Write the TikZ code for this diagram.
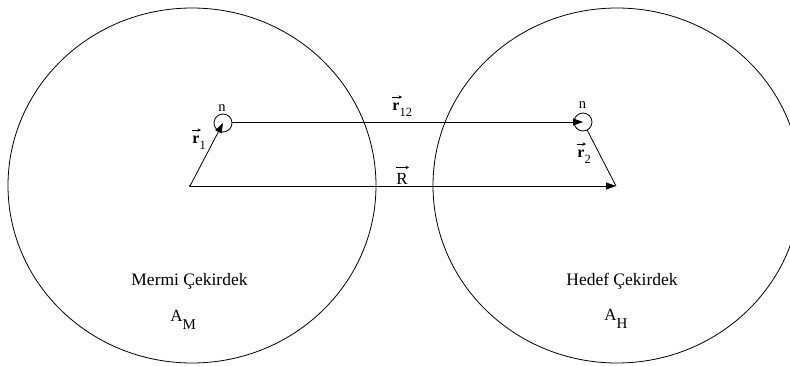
\documentclass[tikz,border=0pt]{standalone}
\usepackage{fontspec}
\setmainfont{Liberation Serif}
\usetikzlibrary{arrows.meta,shapes.geometric}
\newcommand{\subsc}[1]{\raisebox{-6pt}{\fontsize{12.5}{13}\selectfont\mdseries #1}}
\begin{document}
\begin{tikzpicture}[x=1pt,y=-1pt,
  line width=0.8pt,
  nucleus/.style={draw, ellipse, minimum width=368pt, minimum height=355pt, line width=0.8pt},
  nucleon/.style={draw, circle, minimum size=18pt, inner sep=0pt, line width=0.8pt},
  vecarrow/.style={-{Triangle[length=10pt,width=7pt]}},
  accent/.style={line width=0.6pt, -{Stealth[length=3.5pt,width=3.5pt]}},
  lbl/.style={font=\fontsize{17.5}{19}\selectfont, inner sep=0pt, anchor=base},
  albl/.style={font=\fontsize{17}{19}\selectfont, inner sep=0pt, anchor=base west},
  vlbl/.style={font=\fontsize{16}{18}\selectfont\bfseries, inner sep=0pt, anchor=base west},
  nlbl/.style={font=\fontsize{14.5}{16}\selectfont, inner sep=0pt, anchor=base}]
\useasboundingbox (0,0) rectangle (790,365);
\clip (0,0) rectangle (790,365);
\node[nucleus] (AM) at (192,185.5) {};
\node[nucleus] (AH) at (617,185.5) {};
\node[nucleon] (nl) at (223,123) {};
\node[nucleon] (nr) at (583,122) {};
\coordinate (O1) at (190,186);
\coordinate (O2) at (616,186);
\fill (O1) circle (1.2pt);
\draw[vecarrow] (O1) -- (nl.center);
\draw[vecarrow] (nl.east |- 0,122) -- (nr.center |- 0,122);
\draw (nr) -- (O2);
\draw[vecarrow] (O1) -- (O2);
\node[nlbl] (n1) at (222,111) {n};
\node[nlbl] (n2) at (582.5,108) {n};
% vector labels
\node[vlbl] (r1) at (192,143) {r\subsc{1}};
\draw[accent] ([yshift=5pt]r1.north west) -- ++(9pt,0);
\node[vlbl] (r12) at (392,110) {r\subsc{12}};
\draw[accent] ([yshift=5pt]r12.north west) -- ++(10pt,0);
\node[vlbl, font=\fontsize{17}{18}\selectfont] (R) at (396,184) {R};
\draw[accent] ([yshift=5pt]R.north west) -- ++(13pt,0);
\node[vlbl] (r2) at (577,157) {r\subsc{2}};
\draw[accent] ([yshift=5pt]r2.north west) -- ++(9pt,0);
% nucleus labels
\node[lbl] (tm) at (189.5,285) {Mermi Çekirdek};
\node[albl] (tam) at (170,321) {A\raisebox{-8pt}{\fontsize{15}{16}\selectfont M}};
\node[lbl] (th) at (622,285) {Hedef Çekirdek};
\node[albl] (tah) at (604,320) {A\raisebox{-8pt}{\fontsize{15}{16}\selectfont H}};
\end{tikzpicture}
\end{document}
